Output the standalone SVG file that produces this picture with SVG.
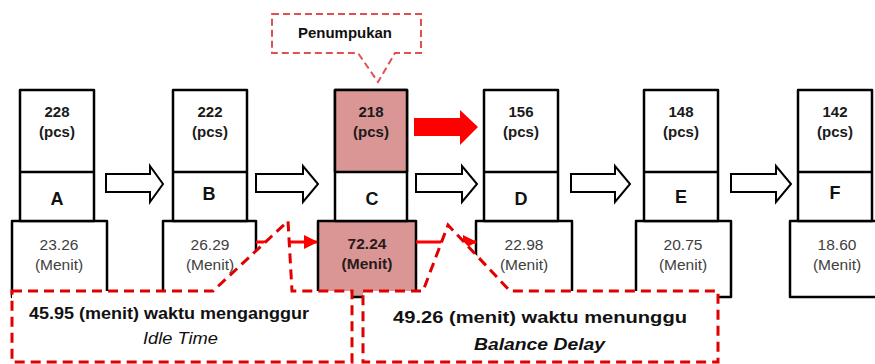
<svg xmlns="http://www.w3.org/2000/svg" width="875" height="364" viewBox="0 0 875 364">
<style>
.box{fill:#fff;stroke:#000;stroke-width:2.5;stroke-linejoin:round}
.pink{fill:#D99694}
.num{font-family:"Liberation Sans",Arial,sans-serif;font-size:15px;font-weight:bold;fill:#1a1a1a;text-anchor:middle}
.let{font-family:"Liberation Sans",Arial,sans-serif;font-size:18px;font-weight:bold;fill:#111;text-anchor:middle}
.val{font-family:"Liberation Sans",Arial,sans-serif;font-size:15.5px;fill:#404040;text-anchor:middle}
.valb{font-family:"Liberation Sans",Arial,sans-serif;font-size:15.5px;font-weight:bold;fill:#2a1a1a;text-anchor:middle}
.hollow{fill:#fff;stroke:#000;stroke-width:2;stroke-linejoin:miter}
.call{fill:#fff;stroke:#e00000;stroke-width:3;stroke-dasharray:10 6}
.call2{fill:#fff;stroke:#e05050;stroke-width:2;stroke-dasharray:7 4}
.ct{font-family:"Liberation Sans",Arial,sans-serif;fill:#111}
</style>
<defs>
<marker id="rh" markerUnits="userSpaceOnUse" markerWidth="14" markerHeight="14" refX="13" refY="7" orient="auto">
<path d="M0,0 L14,7 L0,14 Z" fill="#f00"/>
</marker>
</defs>

<g id="node-A">
<rect class="box" x="12" y="221" width="95" height="76"/>
<rect class="box" x="20" y="90" width="74" height="131"/>
<line x1="20" y1="172" x2="94" y2="172" stroke="#000" stroke-width="2.5"/>
<text class="num" x="57" y="117">228</text>
<text class="num" x="57" y="137">(pcs)</text>
<text class="let" x="57" y="205">A</text>
<text class="val" x="59" y="250">23.26</text>
<text class="val" x="59" y="270">(Menit)</text>
</g>

<g id="node-B">
<rect class="box" x="163" y="221" width="93" height="76"/>
<rect class="box" x="173" y="90" width="74" height="131"/>
<line x1="173" y1="172" x2="247" y2="172" stroke="#000" stroke-width="2.5"/>
<text class="num" x="210" y="117">222</text>
<text class="num" x="210" y="137">(pcs)</text>
<text class="let" x="209" y="200">B</text>
<text class="val" x="210" y="250">26.29</text>
<text class="val" x="210" y="270">(Menit)</text>
</g>

<g id="node-C">
<rect class="box pink" x="318" y="221" width="98" height="76"/>
<rect class="box" x="335" y="90" width="72" height="131"/>
<rect class="box pink" x="335" y="90" width="72" height="82"/>
<text class="num" x="371" y="117">218</text>
<text class="num" x="371" y="137">(pcs)</text>
<text class="let" x="372" y="205">C</text>
<text class="valb" x="367" y="249">72.24</text>
<text class="valb" x="367" y="269">(Menit)</text>
</g>

<g id="node-D">
<rect class="box" x="476" y="221" width="96" height="76"/>
<rect class="box" x="484" y="90" width="74" height="131"/>
<line x1="484" y1="172" x2="558" y2="172" stroke="#000" stroke-width="2.5"/>
<text class="num" x="521" y="117">156</text>
<text class="num" x="521" y="137">(pcs)</text>
<text class="let" x="521" y="205">D</text>
<text class="val" x="524" y="250">22.98</text>
<text class="val" x="524" y="270">(Menit)</text>
</g>

<g id="node-E">
<rect class="box" x="636" y="221" width="95" height="76"/>
<rect class="box" x="644" y="90" width="74" height="131"/>
<line x1="644" y1="172" x2="718" y2="172" stroke="#000" stroke-width="2.5"/>
<text class="num" x="681" y="117">148</text>
<text class="num" x="681" y="137">(pcs)</text>
<text class="let" x="681" y="203">E</text>
<text class="val" x="683" y="250">20.75</text>
<text class="val" x="683" y="270">(Menit)</text>
</g>

<g id="node-F">
<rect class="box" x="790" y="221" width="95" height="76"/>
<rect class="box" x="798" y="90" width="74" height="131"/>
<line x1="798" y1="172" x2="872" y2="172" stroke="#000" stroke-width="2.5"/>
<text class="num" x="835" y="117">142</text>
<text class="num" x="835" y="137">(pcs)</text>
<text class="let" x="835" y="199">F</text>
<text class="val" x="837" y="250">18.60</text>
<text class="val" x="837" y="270">(Menit)</text>
</g>

<g id="connectors">
<path class="hollow" d="M106,174 H150 V166 L163,184 L150,202 V192 H106 Z"/>
<path class="hollow" d="M256,174 H303 V166 L318,184 L303,202 V192 H256 Z"/>
<path class="hollow" d="M416,174 H462 V166 L477,184 L462,202 V192 H416 Z"/>
<path class="hollow" d="M571,174 H615 V166 L630,184 L615,202 V192 H571 Z"/>
<path class="hollow" d="M731,174 H776 V166 L791,184 L776,202 V192 H731 Z"/>
<path d="M414,118 H460 V110 L478,127 L460,145 V136 H414 Z" fill="#f00"/>
<line x1="256" y1="242" x2="317" y2="242" stroke="#f00" stroke-width="3" marker-end="url(#rh)"/>
<line x1="416" y1="242" x2="476" y2="242" stroke="#f00" stroke-width="3" marker-end="url(#rh)"/>
</g>

<g id="callout-penumpukan">
<path class="call2" d="M272,14 H421 V53 H395 L378,82 L358,53 H272 Z"/>
<text class="ct" x="345" y="38" font-size="14" font-weight="bold" text-anchor="middle" textLength="94" lengthAdjust="spacingAndGlyphs">Penumpukan</text>
</g>

<g id="callout-idle">
<path class="call" d="M12,291 H213 L288,221 L292,291 H352 V362 H12 Z"/>
<text class="ct" x="29" y="319" font-size="16.5" font-weight="bold" textLength="280" lengthAdjust="spacingAndGlyphs">45.95 (menit) waktu menganggur</text>
<text class="ct" x="143" y="344" font-size="16.5" font-style="italic" textLength="75" lengthAdjust="spacingAndGlyphs">Idle Time</text>
</g>

<g id="callout-balance">
<path class="call" d="M363,291 H423 L448,225 L510,291 H718 V362 H363 Z"/>
<text class="ct" x="393" y="323" font-size="17" font-weight="bold" textLength="294" lengthAdjust="spacingAndGlyphs">49.26 (menit) waktu menunggu</text>
<text class="ct" x="474" y="350" font-size="17" font-weight="bold" font-style="italic" textLength="131" lengthAdjust="spacingAndGlyphs">Balance Delay</text>
</g>
</svg>
